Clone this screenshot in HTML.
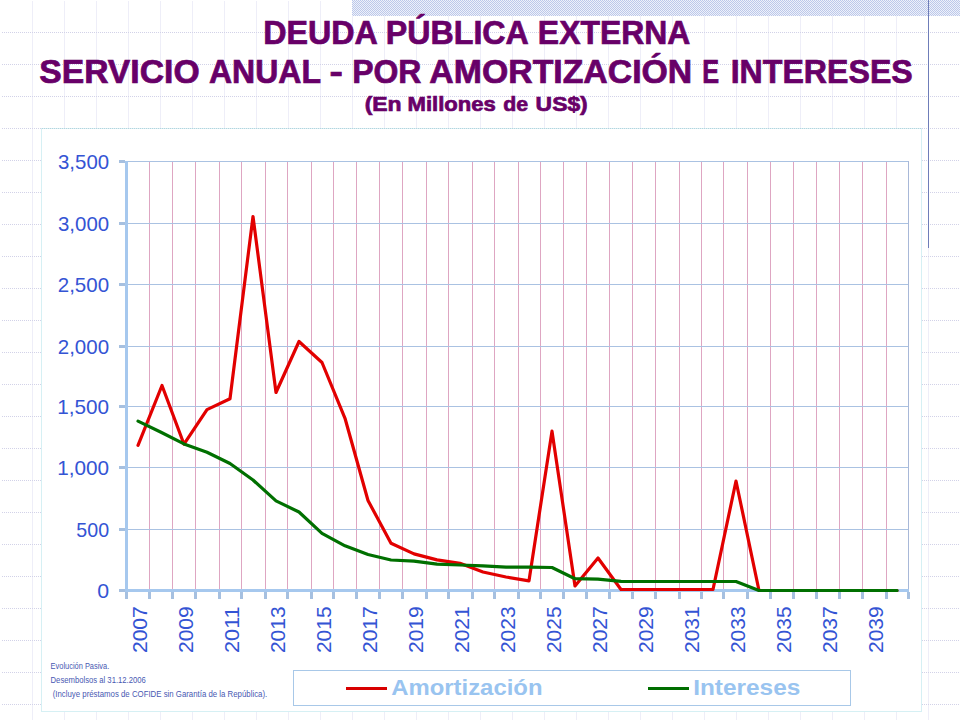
<!DOCTYPE html>
<html><head><meta charset="utf-8"><style>
html,body{margin:0;padding:0;background:#fff;}
body{width:960px;height:720px;overflow:hidden;position:relative;}
svg{position:absolute;left:0;top:0;display:block;}
text{font-family:"Liberation Sans",sans-serif;}
</style></head><body>
<svg width="960" height="720" viewBox="0 0 960 720" shape-rendering="crispEdges">
<defs>
<pattern id="dotsH" x="0" y="0" width="2" height="1" patternUnits="userSpaceOnUse">
<rect x="0" y="0" width="1" height="1" fill="#d2d2e8"/>
</pattern>
<pattern id="bg" x="0" y="0" width="32" height="32" patternUnits="userSpaceOnUse">
<rect x="0" y="0" width="32" height="1" fill="url(#dotsH)"/>
<rect x="0" y="1" width="1" height="31" fill="#eeeef8"/>
</pattern>
<pattern id="dotsC" x="0" y="0" width="2" height="1" patternUnits="userSpaceOnUse">
<rect x="0" y="0" width="1" height="1" fill="#b4d4de"/><rect x="1" y="0" width="1" height="1" fill="#daf0f4"/>
</pattern>
<pattern id="chk" x="0" y="0" width="2" height="2" patternUnits="userSpaceOnUse">
<rect x="0" y="0" width="2" height="2" fill="#eef1fa"/>
<rect x="0" y="0" width="1" height="1" fill="#bcc8ea"/>
<rect x="1" y="1" width="1" height="1" fill="#bcc8ea"/>
</pattern>
</defs>
<rect x="0" y="0" width="960" height="720" fill="url(#bg)"/>
<rect x="0" y="0" width="960" height="1" fill="#fff"/>
<rect x="0" y="0" width="1" height="720" fill="#fff"/>
<rect x="352" y="0" width="608" height="16" fill="url(#chk)"/>
<rect x="928" y="0" width="1" height="248" fill="#6f7db9"/>
<rect x="41.5" y="128.5" width="880" height="583" fill="#fff" stroke="#d6f0f4" stroke-width="1"/>
<rect x="42" y="128" width="879" height="1" fill="url(#dotsC)"/>
<rect x="149" y="161" width="1" height="428" fill="#dea6c2"/><rect x="172" y="161" width="1" height="428" fill="#dea6c2"/><rect x="195" y="161" width="1" height="428" fill="#dea6c2"/><rect x="219" y="161" width="1" height="428" fill="#dea6c2"/><rect x="241" y="161" width="1" height="428" fill="#dea6c2"/><rect x="265" y="161" width="1" height="428" fill="#dea6c2"/><rect x="287" y="161" width="1" height="428" fill="#dea6c2"/><rect x="311" y="161" width="1" height="428" fill="#dea6c2"/><rect x="333" y="161" width="1" height="428" fill="#dea6c2"/><rect x="356" y="161" width="1" height="428" fill="#dea6c2"/><rect x="379" y="161" width="1" height="428" fill="#dea6c2"/><rect x="402" y="161" width="1" height="428" fill="#dea6c2"/><rect x="426" y="161" width="1" height="428" fill="#dea6c2"/><rect x="448" y="161" width="1" height="428" fill="#dea6c2"/><rect x="472" y="161" width="1" height="428" fill="#dea6c2"/><rect x="494" y="161" width="1" height="428" fill="#dea6c2"/><rect x="518" y="161" width="1" height="428" fill="#dea6c2"/><rect x="540" y="161" width="1" height="428" fill="#dea6c2"/><rect x="563" y="161" width="1" height="428" fill="#dea6c2"/><rect x="586" y="161" width="1" height="428" fill="#dea6c2"/><rect x="609" y="161" width="1" height="428" fill="#dea6c2"/><rect x="632" y="161" width="1" height="428" fill="#dea6c2"/><rect x="655" y="161" width="1" height="428" fill="#dea6c2"/><rect x="679" y="161" width="1" height="428" fill="#dea6c2"/><rect x="701" y="161" width="1" height="428" fill="#dea6c2"/><rect x="723" y="161" width="1" height="428" fill="#dea6c2"/><rect x="747" y="161" width="1" height="428" fill="#dea6c2"/><rect x="770" y="161" width="1" height="428" fill="#dea6c2"/><rect x="793" y="161" width="1" height="428" fill="#dea6c2"/><rect x="816" y="161" width="1" height="428" fill="#dea6c2"/><rect x="839" y="161" width="1" height="428" fill="#dea6c2"/><rect x="862" y="161" width="1" height="428" fill="#dea6c2"/><rect x="886" y="161" width="1" height="428" fill="#dea6c2"/>
<rect x="127" y="161" width="782" height="1" fill="#aac2e2"/><rect x="127" y="223" width="782" height="1" fill="#aac2e2"/><rect x="127" y="284" width="782" height="1" fill="#aac2e2"/><rect x="127" y="346" width="782" height="1" fill="#aac2e2"/><rect x="127" y="406" width="782" height="1" fill="#aac2e2"/><rect x="127" y="467" width="782" height="1" fill="#aac2e2"/><rect x="127" y="529" width="782" height="1" fill="#aac2e2"/>
<rect x="908" y="161" width="1" height="430" fill="#a8b8d8"/>
<rect x="125" y="161" width="3" height="431" fill="#a6c8ee"/>
<rect x="119" y="160" width="6" height="3" fill="#a6c0e0"/><rect x="119" y="222" width="6" height="3" fill="#a6c0e0"/><rect x="119" y="283" width="6" height="3" fill="#a6c0e0"/><rect x="119" y="345" width="6" height="3" fill="#a6c0e0"/><rect x="119" y="405" width="6" height="3" fill="#a6c0e0"/><rect x="119" y="466" width="6" height="3" fill="#a6c0e0"/><rect x="119" y="528" width="6" height="3" fill="#a6c0e0"/><rect x="119" y="589" width="6" height="3" fill="#a6c0e0"/>
<rect x="125" y="589" width="784" height="3" fill="#a6c8ee"/>
<rect x="125" y="592" width="3" height="7" fill="#a6c0e0"/><rect x="148" y="592" width="3" height="7" fill="#a6c0e0"/><rect x="171" y="592" width="3" height="7" fill="#a6c0e0"/><rect x="194" y="592" width="3" height="7" fill="#a6c0e0"/><rect x="218" y="592" width="3" height="7" fill="#a6c0e0"/><rect x="240" y="592" width="3" height="7" fill="#a6c0e0"/><rect x="264" y="592" width="3" height="7" fill="#a6c0e0"/><rect x="286" y="592" width="3" height="7" fill="#a6c0e0"/><rect x="310" y="592" width="3" height="7" fill="#a6c0e0"/><rect x="332" y="592" width="3" height="7" fill="#a6c0e0"/><rect x="355" y="592" width="3" height="7" fill="#a6c0e0"/><rect x="378" y="592" width="3" height="7" fill="#a6c0e0"/><rect x="401" y="592" width="3" height="7" fill="#a6c0e0"/><rect x="425" y="592" width="3" height="7" fill="#a6c0e0"/><rect x="447" y="592" width="3" height="7" fill="#a6c0e0"/><rect x="471" y="592" width="3" height="7" fill="#a6c0e0"/><rect x="493" y="592" width="3" height="7" fill="#a6c0e0"/><rect x="517" y="592" width="3" height="7" fill="#a6c0e0"/><rect x="539" y="592" width="3" height="7" fill="#a6c0e0"/><rect x="562" y="592" width="3" height="7" fill="#a6c0e0"/><rect x="585" y="592" width="3" height="7" fill="#a6c0e0"/><rect x="608" y="592" width="3" height="7" fill="#a6c0e0"/><rect x="631" y="592" width="3" height="7" fill="#a6c0e0"/><rect x="654" y="592" width="3" height="7" fill="#a6c0e0"/><rect x="678" y="592" width="3" height="7" fill="#a6c0e0"/><rect x="700" y="592" width="3" height="7" fill="#a6c0e0"/><rect x="722" y="592" width="3" height="7" fill="#a6c0e0"/><rect x="746" y="592" width="3" height="7" fill="#a6c0e0"/><rect x="769" y="592" width="3" height="7" fill="#a6c0e0"/><rect x="792" y="592" width="3" height="7" fill="#a6c0e0"/><rect x="815" y="592" width="3" height="7" fill="#a6c0e0"/><rect x="838" y="592" width="3" height="7" fill="#a6c0e0"/><rect x="861" y="592" width="3" height="7" fill="#a6c0e0"/><rect x="885" y="592" width="3" height="7" fill="#a6c0e0"/><rect x="907" y="592" width="3" height="7" fill="#a6c0e0"/>
<g shape-rendering="auto" fill="none" stroke-width="3.2" stroke-linejoin="round" stroke-linecap="round">
<polyline points="138.0,445.3 162.0,385.5 184.0,444.2 207.0,409.6 230.0,398.8 253.0,216.5 276.0,392.5 299.0,341.5 322.0,362.5 345.0,418.3 368.0,500.5 391.0,543.2 414.0,553.9 437.0,559.9 460.0,563.3 483.0,572.0 506.0,577.0 529.0,580.8 552.0,431.2 575.0,586.0 598.0,558.0 621.0,589.5 644.0,589.5 667.0,589.5 690.0,589.5 713.0,589.5 736.0,481.0 759.0,590.5 782.0,590.5 805.0,590.5 828.0,590.5 851.0,590.5 874.0,590.5 897.0,590.5" stroke="#e20000"/>
<polyline points="138.0,421.1 161.0,432.2 184.0,443.9 207.0,452.2 230.0,463.5 253.0,480.0 276.0,500.9 299.0,512.0 322.0,533.3 345.0,545.8 368.0,554.5 391.0,560.0 414.0,561.2 437.0,564.1 460.0,565.0 483.0,565.8 506.0,567.2 529.0,567.2 552.0,567.5 575.0,578.7 598.0,579.2 621.0,581.3 644.0,581.5 667.0,581.5 690.0,581.5 713.0,581.5 736.0,581.5 759.0,590.5 782.0,590.5 805.0,590.5 828.0,590.5 851.0,590.5 874.0,590.5 897.0,590.5" stroke="#007000"/>
</g>
<g fill="#3454d4">
<text x="58.02" y="169.00" font-size="21.00" textLength="51.07" lengthAdjust="spacingAndGlyphs">3,500</text><text x="58.02" y="231.00" font-size="21.00" textLength="51.07" lengthAdjust="spacingAndGlyphs">3,000</text><text x="57.77" y="292.00" font-size="21.00" textLength="51.33" lengthAdjust="spacingAndGlyphs">2,500</text><text x="57.77" y="354.00" font-size="21.00" textLength="51.33" lengthAdjust="spacingAndGlyphs">2,000</text><text x="57.22" y="414.00" font-size="21.00" textLength="51.89" lengthAdjust="spacingAndGlyphs">1,500</text><text x="57.22" y="475.00" font-size="21.00" textLength="51.89" lengthAdjust="spacingAndGlyphs">1,000</text><text x="76.31" y="537.00" font-size="21.00" textLength="32.75" lengthAdjust="spacingAndGlyphs">500</text><text x="97.27" y="598.00" font-size="21.00" textLength="11.87" lengthAdjust="spacingAndGlyphs">0</text>
</g>
<g fill="#3454d4">
<g transform="translate(146.6,0.0) rotate(-90)"><text x="-653.06" y="0.00" font-size="21.00" textLength="46.82" lengthAdjust="spacingAndGlyphs">2007</text></g><g transform="translate(192.6,0.0) rotate(-90)"><text x="-653.06" y="0.00" font-size="21.00" textLength="46.75" lengthAdjust="spacingAndGlyphs">2009</text></g><g transform="translate(238.6,0.0) rotate(-90)"><text x="-653.06" y="0.00" font-size="21.00" textLength="46.78" lengthAdjust="spacingAndGlyphs">2011</text></g><g transform="translate(284.6,0.0) rotate(-90)"><text x="-653.06" y="0.00" font-size="21.00" textLength="46.68" lengthAdjust="spacingAndGlyphs">2013</text></g><g transform="translate(330.6,0.0) rotate(-90)"><text x="-653.05" y="0.00" font-size="21.00" textLength="46.63" lengthAdjust="spacingAndGlyphs">2015</text></g><g transform="translate(376.6,0.0) rotate(-90)"><text x="-653.06" y="0.00" font-size="21.00" textLength="46.82" lengthAdjust="spacingAndGlyphs">2017</text></g><g transform="translate(422.6,0.0) rotate(-90)"><text x="-653.06" y="0.00" font-size="21.00" textLength="46.75" lengthAdjust="spacingAndGlyphs">2019</text></g><g transform="translate(468.6,0.0) rotate(-90)"><text x="-653.06" y="0.00" font-size="21.00" textLength="46.78" lengthAdjust="spacingAndGlyphs">2021</text></g><g transform="translate(514.6,0.0) rotate(-90)"><text x="-653.06" y="0.00" font-size="21.00" textLength="46.68" lengthAdjust="spacingAndGlyphs">2023</text></g><g transform="translate(560.6,0.0) rotate(-90)"><text x="-653.05" y="0.00" font-size="21.00" textLength="46.63" lengthAdjust="spacingAndGlyphs">2025</text></g><g transform="translate(606.6,0.0) rotate(-90)"><text x="-653.06" y="0.00" font-size="21.00" textLength="46.82" lengthAdjust="spacingAndGlyphs">2027</text></g><g transform="translate(652.6,0.0) rotate(-90)"><text x="-653.06" y="0.00" font-size="21.00" textLength="46.75" lengthAdjust="spacingAndGlyphs">2029</text></g><g transform="translate(698.6,0.0) rotate(-90)"><text x="-653.06" y="0.00" font-size="21.00" textLength="46.78" lengthAdjust="spacingAndGlyphs">2031</text></g><g transform="translate(744.6,0.0) rotate(-90)"><text x="-653.06" y="0.00" font-size="21.00" textLength="46.68" lengthAdjust="spacingAndGlyphs">2033</text></g><g transform="translate(790.6,0.0) rotate(-90)"><text x="-653.05" y="0.00" font-size="21.00" textLength="46.63" lengthAdjust="spacingAndGlyphs">2035</text></g><g transform="translate(836.6,0.0) rotate(-90)"><text x="-653.06" y="0.00" font-size="21.00" textLength="46.82" lengthAdjust="spacingAndGlyphs">2037</text></g><g transform="translate(882.6,0.0) rotate(-90)"><text x="-653.06" y="0.00" font-size="21.00" textLength="46.75" lengthAdjust="spacingAndGlyphs">2039</text></g>
</g>
<g font-weight="bold" fill="#680068" stroke="#680068" stroke-width="0.7">
<text x="263.14" y="43.90" font-size="32.50" textLength="114.71" lengthAdjust="spacingAndGlyphs">DEUDA</text><text x="385.85" y="43.90" font-size="32.50" textLength="143.00" lengthAdjust="spacingAndGlyphs">PÚBLICA</text><text x="537.87" y="43.90" font-size="32.50" textLength="152.48" lengthAdjust="spacingAndGlyphs">EXTERNA</text>
<text x="39.23" y="82.80" font-size="32.50" textLength="160.38" lengthAdjust="spacingAndGlyphs">SERVICIO</text><text x="209.00" y="82.80" font-size="32.50" textLength="111.98" lengthAdjust="spacingAndGlyphs">ANUAL</text><text x="329.43" y="82.80" font-size="32.50" textLength="13.38" lengthAdjust="spacingAndGlyphs">-</text><text x="352.16" y="82.80" font-size="32.50" textLength="69.29" lengthAdjust="spacingAndGlyphs">POR</text><text x="429.36" y="82.80" font-size="32.50" textLength="262.92" lengthAdjust="spacingAndGlyphs">AMORTIZACIÓN</text><text x="702.31" y="82.80" font-size="32.50" textLength="16.88" lengthAdjust="spacingAndGlyphs">E</text><text x="730.65" y="82.80" font-size="32.50" textLength="182.10" lengthAdjust="spacingAndGlyphs">INTERESES</text>
<text x="364.66" y="110.50" font-size="20.50" textLength="36.97" lengthAdjust="spacingAndGlyphs">(En</text><text x="407.52" y="110.50" font-size="20.50" textLength="88.38" lengthAdjust="spacingAndGlyphs">Millones</text><text x="503.33" y="110.50" font-size="20.50" textLength="24.80" lengthAdjust="spacingAndGlyphs">de</text><text x="535.63" y="110.50" font-size="20.50" textLength="52.11" lengthAdjust="spacingAndGlyphs">US$)</text>
</g>
<rect x="293.5" y="670.5" width="557" height="35" fill="#fff" stroke="#a8c8e8" stroke-width="1"/>
<rect x="346" y="687" width="41" height="3" fill="#d80000"/>
<rect x="648" y="687" width="41" height="3" fill="#006e00"/>
<g font-weight="bold" fill="#99c4f0">
<text x="391.21" y="694.60" font-size="21.50" textLength="151.28" lengthAdjust="spacingAndGlyphs">Amortización</text>
<text x="693.17" y="694.60" font-size="21.50" textLength="107.13" lengthAdjust="spacingAndGlyphs">Intereses</text>
</g>
<g fill="#4858b2">
<text x="50.59" y="668.70" font-size="8.20" textLength="58.69" lengthAdjust="spacingAndGlyphs">Evolución Pasiva.</text>
<text x="50.57" y="682.70" font-size="8.20" textLength="95.27" lengthAdjust="spacingAndGlyphs">Desembolsos al 31.12.2006</text>
<text x="52.71" y="697.40" font-size="8.20" textLength="214.50" lengthAdjust="spacingAndGlyphs">(Incluye préstamos de COFIDE sin Garantía de la República).</text>
</g>
</svg>
</body></html>
